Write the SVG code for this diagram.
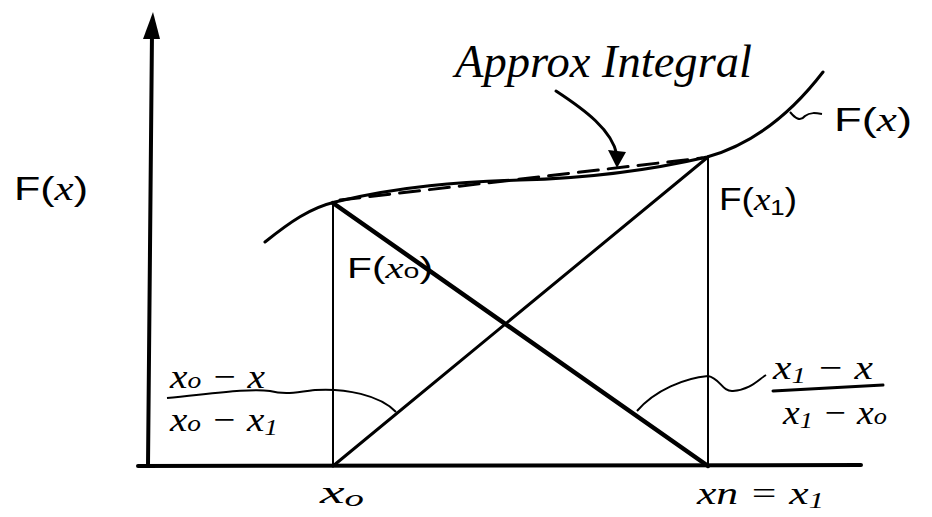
<svg xmlns="http://www.w3.org/2000/svg" width="932" height="517" viewBox="0 0 932 517">
<style>
.ax{stroke:#000;stroke-width:4;fill:none;stroke-linecap:round}
.thin{stroke:#000;stroke-width:2;fill:none}
.med{stroke:#000;stroke-width:3;fill:none;stroke-linecap:round}
.thick{stroke:#000;stroke-width:4.5;fill:none;stroke-linecap:round}
.t{font-family:"Liberation Sans",Arial,sans-serif;fill:#000}
.h{font-family:"Liberation Serif","Times New Roman",serif;font-style:italic;fill:#000}
.s{font-size:70%}
</style>
<rect width="932" height="517" fill="#fff"/>
<g id="connectors">
<g id="axes">
<line class="ax" x1="148" y1="466" x2="152" y2="32"/>
<polygon points="153,12 143,39 160,39" fill="#000"/>
<line class="ax" x1="138" y1="466" x2="861" y2="465"/>
</g>
<g id="verticals">
<line class="thin" x1="333" y1="203" x2="333" y2="466"/>
<line class="thin" x1="708" y1="157" x2="708" y2="466"/>
</g>
<g id="diagonals">
<line class="thick" x1="333" y1="203" x2="708" y2="466"/>
<line class="med" x1="333" y1="466" x2="708" y2="157"/>
</g>
<path id="curve" class="med" d="M265,242 C290,222 310,208 335,202 C400,186 460,182 520,180 C600,178 660,168 707,157 C750,145 790,115 823,72"/>
<path id="chord" class="med" d="M340,200 L702,158" stroke-dasharray="20 10"/>
<path id="approx-arrow" class="med" d="M556,91 C585,110 612,130 617,155"/>
<polygon points="617,168 608,150 626,152" fill="#000"/>
<path id="fx-tick" class="thin" d="M790,112 C795,118 800,122 805,116 C810,112 816,113 822,114" stroke-width="2.5"/>
<path id="left-frac-lead" class="thin" d="M167,398 C210,394 250,388 270,391 C285,395 300,392 315,390 C345,388 380,395 396,412"/>
<path id="right-frac-lead" class="thin" d="M637,411 C655,390 685,378 708,376 C720,378 722,392 733,391 C750,390 758,380 766,375"/>
<line class="med" x1="773" y1="391" x2="883" y2="385"/>
</g>
<g id="label-Fx-axis"><text class="t" x="14" y="200" font-size="33" textLength="74" lengthAdjust="spacingAndGlyphs">F(<tspan class="h">x</tspan>)</text></g>
<g id="label-approx"><text class="h" x="455" y="77" font-size="46" textLength="297" lengthAdjust="spacingAndGlyphs">Approx Integral</text></g>
<g id="label-Fx-curve"><text class="t" x="834" y="131" font-size="34" textLength="78" lengthAdjust="spacingAndGlyphs">F(<tspan class="h">x</tspan>)</text></g>
<g id="label-Fx1"><text class="t" x="719" y="210" font-size="32" textLength="78" lengthAdjust="spacingAndGlyphs">F(<tspan class="h">x</tspan><tspan class="s" dy="5">1</tspan><tspan dy="-5">)</tspan></text></g>
<g id="label-Fx0"><text class="t" x="347" y="278" font-size="30" textLength="86" lengthAdjust="spacingAndGlyphs">F(<tspan class="h">x</tspan><tspan class="s">o</tspan>)</text></g>
<g id="label-left-frac">
<text class="h" x="170" y="388" font-size="34" textLength="95" lengthAdjust="spacingAndGlyphs">x<tspan class="s">o</tspan> − x</text>
<text class="h" x="170" y="431" font-size="34" textLength="108" lengthAdjust="spacingAndGlyphs">x<tspan class="s">o</tspan> − x<tspan class="s" dy="4">1</tspan></text>
</g>
<g id="label-right-frac">
<text class="h" x="773" y="379" font-size="34" textLength="100" lengthAdjust="spacingAndGlyphs">x<tspan class="s" dy="4">1</tspan><tspan dy="-4"> − x</tspan></text>
<text class="h" x="783" y="424" font-size="34" textLength="104" lengthAdjust="spacingAndGlyphs">x<tspan class="s" dy="4">1</tspan><tspan dy="-4"> − x</tspan><tspan class="s">o</tspan></text>
</g>
<g id="label-x0"><text class="h" x="320" y="503" font-size="32" textLength="44" lengthAdjust="spacingAndGlyphs">x<tspan class="s" dy="3">o</tspan></text></g>
<g id="label-xn"><text class="h" x="697" y="504" font-size="32" textLength="127" lengthAdjust="spacingAndGlyphs">x<tspan>n</tspan> = x<tspan class="s" dy="4">1</tspan></text></g>
</svg>
